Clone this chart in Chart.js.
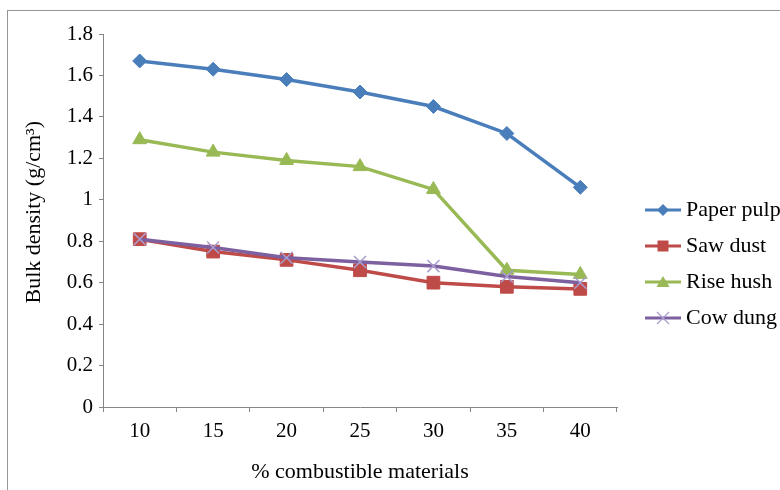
<!DOCTYPE html>
<html>
<head>
<meta charset="utf-8">
<script src="https://cdn.jsdelivr.net/npm/chart.js@4.4.1/dist/chart.umd.min.js"></script>
<style>
  html, body { margin: 0; padding: 0; background: #fff; overflow: hidden; width: 780px; height: 490px; }
  #frame { position: absolute; left: 7px; top: 10px; width: 776px; height: 483px; border: 1px solid #969696; }
  #chart { display: block; }
</style>
</head>
<body>
<div id="frame"><canvas id="chart" width="776" height="483"></canvas></div>
<script>
// categories on the x axis (% combustible materials)
const categories = ['10', '15', '20', '25', '30', '35', '40'];

// bulk density values, g/cm3
const paperPulp = [1.67, 1.63, 1.58, 1.52, 1.45, 1.32, 1.06];
const sawDust = [0.81, 0.75, 0.71, 0.66, 0.60, 0.58, 0.57];
const riseHush = [1.29, 1.23, 1.19, 1.16, 1.05, 0.66, 0.64];
const cowDung = [0.81, 0.77, 0.72, 0.70, 0.68, 0.63, 0.60];

const seriesNames = ['Paper pulp', 'Saw dust', 'Rise hush', 'Cow dung'];
const colors = ['#4a7ebb', '#be4b48', '#98b954', '#7d60a0'];
const crossColor = '#a99ccf';

const serif = '"Liberation Serif", "Times New Roman", serif';

// small legend icon: line with the marker in the middle (Excel style)
const makeIcon = (color, marker) => {
    const c = document.createElement('canvas');
    c.width = 56;
    c.height = 20;
    const ctx = c.getContext('2d');
    ctx.strokeStyle = color;
    ctx.lineWidth = 3;
    ctx.beginPath();
    ctx.moveTo(20, 10);
    ctx.lineTo(56, 10);
    ctx.stroke();

    const x = 38, y = 10;
    ctx.fillStyle = color;
    ctx.beginPath();
    if (marker === 'diamond') {
        ctx.moveTo(x, y - 6); ctx.lineTo(x + 6, y); ctx.lineTo(x, y + 6); ctx.lineTo(x - 6, y);
        ctx.closePath(); ctx.fill();
    } else if (marker === 'square') {
        ctx.rect(x - 5.5, y - 5.5, 11, 11); ctx.fill();
    } else if (marker === 'triangle') {
        ctx.moveTo(x, y - 6); ctx.lineTo(x + 6.5, y + 5); ctx.lineTo(x - 6.5, y + 5);
        ctx.closePath(); ctx.fill();
    } else {
        ctx.strokeStyle = crossColor;
        ctx.lineWidth = 1.2;
        ctx.moveTo(x - 6, y - 6); ctx.lineTo(x + 6, y + 6);
        ctx.moveTo(x + 6, y - 6); ctx.lineTo(x - 6, y + 6);
        ctx.stroke();
    }
    return c;
};

const legendIcons = [
    makeIcon(colors[0], 'diamond'),
    makeIcon(colors[1], 'square'),
    makeIcon(colors[2], 'triangle'),
    makeIcon(colors[3], 'cross')
];

const chart = new Chart(document.getElementById('chart'), {
    type: 'line',
    data: {
        labels: categories,
        datasets: [
            {
                label: seriesNames[0], data: paperPulp, order: 3,
                borderColor: colors[0], backgroundColor: colors[0], borderWidth: 3.5,
                pointStyle: 'rectRot', pointRadius: 7, pointBorderWidth: 1,
                pointBackgroundColor: colors[0], pointBorderColor: colors[0]
            },
            {
                label: seriesNames[1], data: sawDust, order: 2,
                borderColor: colors[1], backgroundColor: colors[1], borderWidth: 3.5,
                pointStyle: 'rect', pointRadius: 9, pointBorderWidth: 1,
                pointBackgroundColor: colors[1], pointBorderColor: colors[1]
            },
            {
                label: seriesNames[2], data: riseHush, order: 1,
                borderColor: colors[2], backgroundColor: colors[2], borderWidth: 3.5,
                pointStyle: 'triangle', pointRadius: 8, pointBorderWidth: 1,
                pointBackgroundColor: colors[2], pointBorderColor: colors[2]
            },
            {
                label: seriesNames[3], data: cowDung, order: 0,
                borderColor: colors[3], backgroundColor: colors[3], borderWidth: 3.5,
                pointStyle: 'crossRot', pointRadius: 8.5, pointBorderWidth: 1.5,
                pointBackgroundColor: crossColor, pointBorderColor: crossColor
            }
        ]
    },
    options: {
        responsive: false,
        animation: false,
        devicePixelRatio: 1,
        layout: { padding: { left: 0, right: 0, top: 23, bottom: 0 } },
        plugins: {
            tooltip: { enabled: false },
            legend: {
                position: 'right',
                maxWidth: 167,
                labels: {
                    usePointStyle: true,
                    pointStyleWidth: 44,
                    padding: 14,
                    color: '#000',
                    font: { family: serif, size: 22 },
                    sort: (a, b) => a.datasetIndex - b.datasetIndex,
                    generateLabels: (c) => Chart.defaults.plugins.legend.labels.generateLabels(c)
                        .map(item => ({ ...item, pointStyle: legendIcons[item.datasetIndex] }))
                }
            }
        },
        scales: {
            x: {
                offset: true,
                afterFit: (scale) => { scale.height = 87; },
                border: { color: '#868686', width: 1 },
                grid: { offset: true, drawOnChartArea: false, color: '#868686', tickLength: 5 },
                ticks: { padding: 7, color: '#000', maxRotation: 0, font: { family: serif, size: 21 } },
                title: {
                    display: true, text: '% combustible materials', color: '#000',
                    font: { family: serif, size: 22 }, padding: { top: 0, bottom: 9 }
                }
            },
            y: {
                min: 0,
                max: 1.8,
                afterFit: (scale) => { scale.width = 95; scale.paddingTop = 0; scale.paddingBottom = 0; },
                border: { color: '#868686', width: 1 },
                grid: { drawOnChartArea: false, color: '#868686', tickLength: 4 },
                ticks: {
                    stepSize: 0.2, padding: 6, color: '#000',
                    font: { family: serif, size: 21 },
                    callback: (v) => String(Math.round(v * 10) / 10)
                },
                title: {
                    // leading spaces nudge the title up a little, like the original
                    display: true, text: '   Bulk density (g/cm³)', color: '#000',
                    font: { family: serif, size: 22 }, padding: { top: 13, bottom: 0 }
                }
            }
        }
    }
});
</script>
</body>
</html>
